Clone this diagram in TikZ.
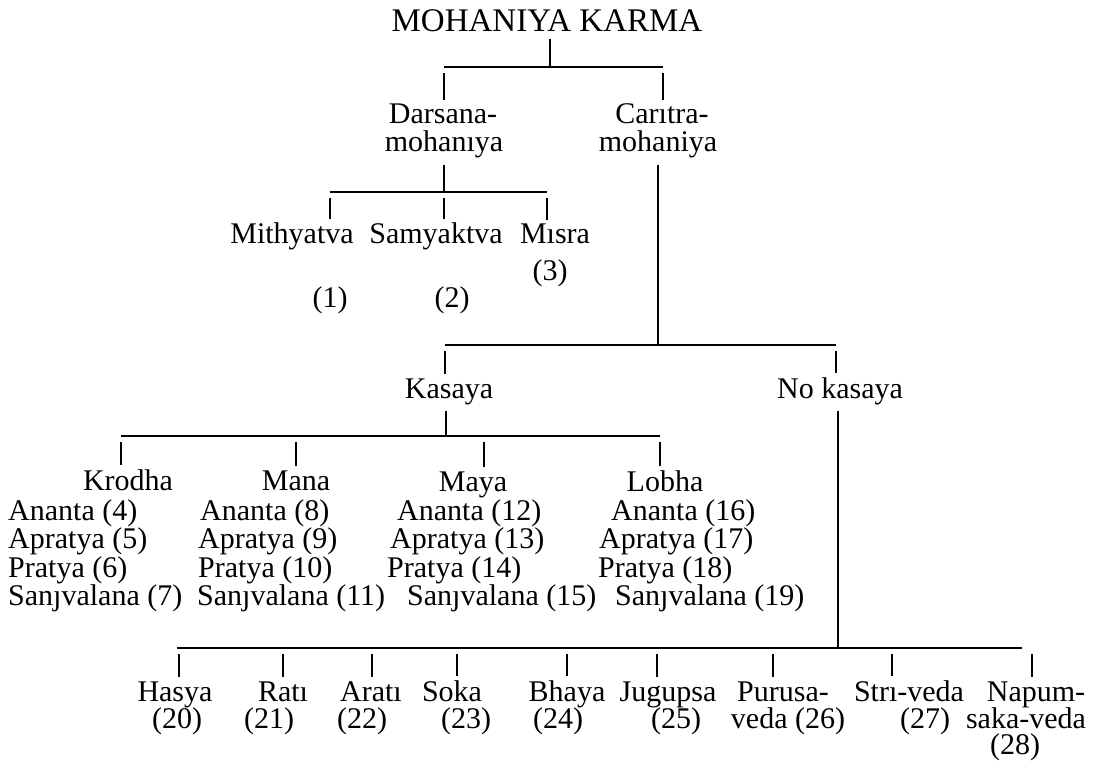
\documentclass[tikz,border=0pt]{standalone}
\usepackage{fontspec}
\setmainfont{Liberation Serif}

\begin{document}
\begin{tikzpicture}[
  x=1pt,y=-1pt,
  lbl/.style={inner sep=0pt,anchor=base,font=\fontsize{30}{28}\selectfont},
  lst/.style={inner sep=0pt,anchor=base west,font=\fontsize{30}{28}\selectfont},
  bar/.style={line width=2pt},
  stem/.style={line width=1.5pt,shorten <=6pt},
  drop/.style={line width=1.5pt,shorten <=6pt,shorten >=4pt}
]
  \useasboundingbox (0,0) rectangle (1104,762);

  \node[lbl,font=\fontsize{33}{33}\selectfont] (karma) at (547,32) {MOHANIYA KARMA};
  \node[lbl] (dars1) at (443,124) {Darsana-};
  \node[lbl] (dars2) at (444,152) {mohan\i ya};
  \node[lbl] (car1)  at (662,124) {Car\i tra-};
  \node[lbl] (car2)  at (658,152) {mohaniya};

  \coordinate (j1)  at (550,67);
  \coordinate (j1a) at (444,67);
  \coordinate (j1b) at (663,67);
  \draw[bar] (j1a) -- (j1b);
  \draw[stem] (karma.south -| j1) -- (j1);
  \draw[drop] (j1a) -- (j1a |- dars1.north);
  \draw[drop] (j1b) -- (j1b |- car1.north);

  \node[lbl] (mith)  at (292,244) {Mithyatva};
  \node[lbl] (samy)  at (436,244) {Samyaktva};
  \node[lbl] (misra) at (555,244) {M\i sra};
  \node[lbl] (mith-n)  at (330,308) {(1)};
  \node[lbl] (samy-n)  at (452,308) {(2)};
  \node[lbl] (misra-n) at (550,281) {(3)};

  \coordinate (j2)  at (444,192);
  \coordinate (j2a) at (330,192);
  \coordinate (j2c) at (547,192);
  \draw[bar] (j2a) -- (j2c);
  \draw[stem] (dars2.south -| j2) -- (j2);
  \draw[drop] (j2a) -- (j2a |- mith.north);
  \draw[drop] (j2)  -- (j2 |- samy.north);
  \draw[drop] (j2c) -- (j2c |- misra.north);

  \node[lbl] (kasaya) at (449,398) {Kasaya};
  \node[lbl] (nokas)  at (840,398) {No kasaya};

  \coordinate (j3)  at (658,345);
  \coordinate (j3a) at (445,345);
  \coordinate (j3b) at (836,345);
  \draw[bar] (j3a) -- (j3b);
  \draw[stem] (car2.south -| j3) -- (j3);
  \draw[drop] (j3a) -- (j3a |- kasaya.north);
  \draw[drop] (j3b) -- (j3b |- nokas.north);

  \node[lbl] (krodha) at (128,490) {Krodha};
  \node[lbl] (mana)   at (296,490) {Mana};
  \node[lbl] (maya)   at (473,491) {Maya};
  \node[lbl] (lobha)  at (665,491) {Lobha};

  \coordinate (j4)  at (446,436);
  \coordinate (j4a) at (121,436);
  \coordinate (j4b) at (296,436);
  \coordinate (j4c) at (484,436);
  \coordinate (j4d) at (660,436);
  \draw[bar] (j4a) -- (j4d);
  \draw[stem] (kasaya.south -| j4) -- (j4);
  \draw[drop] (j4a) -- (j4a |- krodha.north);
  \draw[drop] (j4b) -- (j4b |- mana.north);
  \draw[drop] (j4c) -- (j4c |- maya.north);
  \draw[drop] (j4d) -- (j4d |- lobha.north);

  \node[lst] (krodha-1) at (8,520) {Ananta (4)};
  \node[lst] (krodha-2) at (8,548) {Apratya (5)};
  \node[lst] (krodha-3) at (8,577) {Pratya (6)};
  \node[lst] (krodha-4) at (8,605) {San\j valana (7)};
  \node[lst] (mana-1) at (200,520) {Ananta (8)};
  \node[lst] (mana-2) at (198,548) {Apratya (9)};
  \node[lst] (mana-3) at (198,577) {Pratya (10)};
  \node[lst] (mana-4) at (197,605) {San\j valana (11)};
  \node[lst] (maya-1) at (397,520) {Ananta (12)};
  \node[lst] (maya-2) at (390,548) {Apratya (13)};
  \node[lst] (maya-3) at (387,577) {Pratya (14)};
  \node[lst] (maya-4) at (407,605) {San\j valana (15)};
  \node[lst] (lobha-1) at (611,520) {Ananta (16)};
  \node[lst] (lobha-2) at (599,548) {Apratya (17)};
  \node[lst] (lobha-3) at (598,577) {Pratya (18)};
  \node[lst] (lobha-4) at (615,605) {San\j valana (19)};

  \coordinate (j5)  at (838,648);
  \coordinate (j5a) at (177,648);
  \coordinate (j5b) at (1022,648);
  \draw[bar] (j5a) -- (j5b);
  \draw[stem] (nokas.south -| j5) -- (j5);

  \foreach \n/\dx/\lx/\t/\nx/\num in {
    hasya/179/175/Hasya/177/(20), rati/283/283/Rat\i/269/(21), arati/372/371/Arat\i/362/(22),
    soka/457/452/Soka/466/(23), bhaya/567/567/Bhaya/558/(24), jugupsa/657/668/Jugupsa/676/(25),
    purusa/773/783/Purusa-/788/{veda (26)}, stri/892/909/Str\i-veda/925/(27),
    napum/1032/1036/Napum-/1026/saka-veda}
  {
    \node[lbl] (\n) at (\lx,701) {\t};
    \node[lbl] (\n-2) at (\nx,728) {\num};
    \coordinate (\n-j) at (\dx,648);
    \draw[drop] (\n-j) -- (\n-j |- \n.north);
  }
  \node[lbl] (napum-3) at (1015,754) {(28)};
\end{tikzpicture}
\end{document}
